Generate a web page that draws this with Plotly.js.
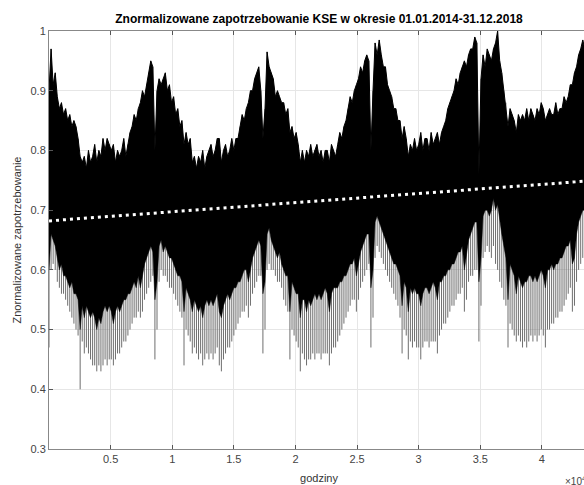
<!DOCTYPE html>
<html><head><meta charset="utf-8">
<script src="https://cdn.plot.ly/plotly-3.0.1.min.js"></script>
<style>html,body{margin:0;padding:0;overflow:hidden;background:#fff}#plot{width:590px;height:485px}</style>
</head><body><div id="plot"></div>
<script>
// Weekly peak (upper envelope) of normalized demand
const peak2014 = [0.90,0.97,0.91,0.93, 0.89,0.87,0.88,0.86,0.87, 0.85,0.86,0.84,0.85, 0.84,0.82,0.79,0.78,
  0.79,0.77,0.80,0.78,0.79, 0.81,0.78,0.80,0.79, 0.82,0.80,0.82,0.81, 0.80,0.81,0.78,0.80,0.79,
  0.80,0.82,0.79,0.81, 0.83,0.84,0.86,0.85,0.87, 0.88,0.90,0.89,0.91, 0.93,0.95,0.94,0.80];
const peak2015 = [0.90,0.92,0.91,0.92, 0.93,0.90,0.91,0.88,0.89, 0.86,0.87,0.84,0.85, 0.81,0.83,0.81,0.82,
  0.78,0.79,0.77,0.79,0.78, 0.80,0.77,0.79,0.80, 0.81,0.79,0.80,0.82, 0.82,0.78,0.80,0.81,0.79,
  0.80,0.82,0.80,0.82, 0.82,0.84,0.86,0.85,0.87, 0.88,0.90,0.90,0.92, 0.93,0.94,0.90,0.82];
const peak2016 = [0.87,0.965,0.94,0.93, 0.92,0.89,0.90,0.89,0.88, 0.88,0.86,0.87,0.83, 0.84,0.82,0.83,0.81,
  0.78,0.80,0.78,0.80,0.79, 0.81,0.79,0.80,0.81, 0.79,0.80,0.78,0.80, 0.80,0.78,0.81,0.80,0.79,
  0.81,0.83,0.82,0.84, 0.85,0.87,0.89,0.88,0.90, 0.91,0.92,0.94,0.93, 0.95,0.96,0.95,0.80];
const peak2017 = [0.90,0.98,0.96,0.985, 0.96,0.94,0.94,0.91,0.90, 0.89,0.87,0.87,0.85, 0.85,0.82,0.84,0.82,
  0.79,0.81,0.80,0.82,0.80, 0.81,0.83,0.80,0.82, 0.82,0.80,0.83,0.81, 0.82,0.83,0.81,0.83,0.84,
  0.85,0.87,0.88,0.89, 0.90,0.92,0.91,0.93,0.94, 0.95,0.94,0.96,0.97, 0.97,0.99,0.98,0.76];
const peak2018 = [0.92,0.96,0.94,0.97, 0.96,0.95,0.97,0.98,1.00, 0.95,0.93,0.90,0.88, 0.84,0.87,0.86,0.85,
  0.83,0.86,0.85,0.86,0.85, 0.87,0.85,0.87,0.86, 0.85,0.87,0.86,0.88, 0.87,0.85,0.86,0.87,0.86,
  0.86,0.88,0.86,0.87, 0.87,0.89,0.88,0.89,0.91, 0.91,0.93,0.94,0.96, 0.97,0.985,0.97,0.95, 0.90];

// Weekly lower edge of the solid black band (weekday night minimum)
const low2014 = [0.60,0.66,0.65,0.64, 0.62,0.60,0.61,0.59,0.59, 0.58,0.57,0.58,0.56, 0.56,0.55,0.50,0.54,
  0.52,0.54,0.53,0.52,0.53, 0.52,0.50,0.52,0.51, 0.53,0.54,0.53,0.54, 0.53,0.51,0.53,0.54,0.53,
  0.54,0.55,0.55,0.56, 0.56,0.57,0.58,0.57,0.59, 0.57,0.59,0.61,0.62, 0.63,0.64,0.63,0.55];
const low2015 = [0.58,0.64,0.65,0.63, 0.64,0.63,0.62,0.62,0.61, 0.60,0.59,0.59,0.58, 0.53,0.57,0.56,0.55,
  0.53,0.55,0.54,0.53,0.54, 0.52,0.54,0.55,0.54, 0.55,0.54,0.55,0.56, 0.53,0.52,0.54,0.55,0.56,
  0.55,0.56,0.57,0.57, 0.58,0.58,0.59,0.60,0.60, 0.58,0.60,0.62,0.63, 0.64,0.65,0.64,0.56];
const low2016 = [0.58,0.66,0.67,0.65, 0.64,0.63,0.62,0.63,0.61, 0.60,0.59,0.59,0.53, 0.58,0.57,0.56,0.56,
  0.52,0.55,0.55,0.53,0.55, 0.54,0.55,0.56,0.55, 0.56,0.55,0.56,0.57, 0.56,0.53,0.56,0.57,0.57,
  0.57,0.58,0.58,0.59, 0.59,0.60,0.61,0.61,0.62, 0.59,0.61,0.63,0.64, 0.65,0.66,0.66,0.57];
const low2017 = [0.60,0.68,0.69,0.68, 0.67,0.66,0.65,0.64,0.63, 0.62,0.61,0.61,0.60, 0.59,0.54,0.58,0.57,
  0.53,0.57,0.56,0.57,0.56, 0.56,0.54,0.56,0.57, 0.57,0.56,0.57,0.58, 0.57,0.55,0.58,0.58,0.59,
  0.59,0.60,0.60,0.61, 0.61,0.62,0.63,0.63,0.64, 0.60,0.63,0.65,0.66, 0.67,0.68,0.68,0.58];
const low2018 = [0.62,0.69,0.70,0.70, 0.69,0.70,0.72,0.70,0.71, 0.68,0.66,0.64,0.62, 0.55,0.61,0.60,0.59,
  0.56,0.59,0.58,0.57,0.58, 0.58,0.59,0.59,0.58, 0.59,0.58,0.59,0.60, 0.59,0.57,0.60,0.60,0.61,
  0.60,0.61,0.61,0.62, 0.62,0.63,0.64,0.64,0.65, 0.61,0.62,0.66,0.68, 0.69,0.70,0.70,0.60, 0.64];

// Weekly minimum (lower envelope, weekends and holidays)
const min2014 = [0.47,0.60,0.61,0.60, 0.58,0.57,0.56,0.56,0.55, 0.54,0.53,0.52,0.51, 0.50,0.49,0.40,0.48,
  0.46,0.47,0.46,0.45,0.44, 0.44,0.43,0.44,0.43, 0.44,0.45,0.44,0.45, 0.45,0.44,0.45,0.46,0.46,
  0.47,0.48,0.48,0.49, 0.50,0.51,0.52,0.52,0.53, 0.52,0.53,0.55,0.56, 0.57,0.58,0.59,0.45];
const min2015 = [0.50,0.58,0.60,0.59, 0.59,0.58,0.57,0.57,0.56, 0.55,0.54,0.53,0.52, 0.44,0.50,0.49,0.48,
  0.46,0.47,0.46,0.45,0.46, 0.44,0.45,0.46,0.45, 0.46,0.45,0.46,0.47, 0.44,0.43,0.45,0.46,0.47,
  0.47,0.48,0.49,0.50, 0.51,0.52,0.53,0.53,0.54, 0.52,0.54,0.56,0.57, 0.58,0.59,0.59,0.46];
const min2016 = [0.50,0.60,0.61,0.60, 0.60,0.59,0.58,0.58,0.57, 0.55,0.54,0.53,0.45, 0.50,0.49,0.48,0.47,
  0.43,0.46,0.45,0.44,0.45, 0.45,0.46,0.45,0.46, 0.46,0.45,0.46,0.46, 0.46,0.44,0.46,0.47,0.47,
  0.48,0.49,0.50,0.51, 0.52,0.53,0.54,0.55,0.55, 0.53,0.55,0.57,0.58, 0.59,0.60,0.61,0.47];
const min2017 = [0.52,0.62,0.64,0.63, 0.62,0.61,0.60,0.59,0.58, 0.57,0.56,0.55,0.54, 0.52,0.46,0.50,0.49,
  0.45,0.48,0.47,0.48,0.47, 0.47,0.45,0.47,0.48, 0.48,0.47,0.48,0.48, 0.48,0.46,0.49,0.50,0.51,
  0.51,0.52,0.53,0.54, 0.54,0.55,0.56,0.56,0.57, 0.53,0.55,0.58,0.59, 0.59,0.60,0.60,0.48];
const min2018 = [0.54,0.62,0.63,0.64, 0.63,0.62,0.64,0.61,0.60, 0.58,0.57,0.55,0.54, 0.47,0.51,0.50,0.49,
  0.48,0.49,0.48,0.47,0.48, 0.47,0.48,0.49,0.48, 0.49,0.48,0.49,0.50, 0.49,0.47,0.50,0.50,0.51,
  0.51,0.52,0.52,0.53, 0.53,0.54,0.55,0.56,0.57, 0.53,0.54,0.58,0.60, 0.61,0.62,0.62,0.50, 0.52];

// Linear trend line (start / end)
const trendX = [1, 43824];
const trendY = [0.682, 0.749];

const hoursTotal = 43824;
const xTickVals = [5000,10000,15000,20000,25000,30000,35000,40000];
const xTickText = ['0.5','1','1.5','2','2.5','3','3.5','4'];
const yTickVals = [0.3,0.4,0.5,0.6,0.7,0.8,0.9,1];
const yTickText = ['0.3','0.4','0.5','0.6','0.7','0.8','0.9','1'];

const weekPeak = [].concat(peak2014, peak2015, peak2016, peak2017, peak2018);
const weekLow = [].concat(low2014, low2015, low2016, low2017, low2018);
const weekMin = [].concat(min2014, min2015, min2016, min2017, min2018);
const weekX = weekPeak.map((_, i) => i * hoursTotal / (weekPeak.length - 1));

const combX = [], combY = [];
weekMin.forEach((v, i) => { combX.push(weekX[i], weekX[i], null); combY.push(v, weekPeak[i], null); });

const FONT = 'Liberation Sans, Arial, Helvetica, sans-serif';

const traces = [
  {x: combX, y: combY, type: 'scatter', mode: 'lines', line: {color: '#6e6e6e', width: 1}, connectgaps: false, hoverinfo: 'skip'},
  {x: weekX, y: weekLow, type: 'scatter', mode: 'lines', line: {color: '#000', width: 0.5}, hoverinfo: 'skip'},
  {x: weekX, y: weekPeak, type: 'scatter', mode: 'lines', fill: 'tonexty', fillcolor: '#000', line: {color: '#000', width: 1}, hoverinfo: 'skip'},
  {x: trendX, y: trendY, type: 'scatter', mode: 'lines', line: {color: '#fff', width: 3, dash: '3px,4px'}, hoverinfo: 'skip'}
];

const layout = {
  width: 590, height: 485,
  margin: {l: 49, r: 1, t: 31, b: 36},
  paper_bgcolor: '#fff', plot_bgcolor: '#fff',
  showlegend: false,
  font: {family: FONT, size: 11, color: '#444'},
  title: {text: '<b>Znormalizowane zapotrzebowanie KSE w okresie 01.01.2014-31.12.2018</b>',
    font: {family: FONT, size: 12, color: '#000'}, x: 0.5, xref: 'paper', xanchor: 'center',
    y: 1 - 19 / 485, yref: 'container', yanchor: 'middle'},
  xaxis: {range: [0, hoursTotal], tickvals: xTickVals, ticktext: xTickText,
    ticks: 'inside', ticklen: 4, tickcolor: '#555', tickwidth: 1,
    showline: true, linecolor: '#888', linewidth: 1, mirror: 'ticks',
    showgrid: true, gridcolor: '#e6e6e6', gridwidth: 1, zeroline: false,
    tickfont: {family: FONT, size: 11, color: '#444'},
    title: {text: 'godziny', font: {family: FONT, size: 11, color: '#333'}, standoff: 10}},
  yaxis: {range: [0.3, 1], tickvals: yTickVals, ticktext: yTickText,
    ticks: 'inside', ticklen: 4, tickcolor: '#555', tickwidth: 1,
    showline: true, linecolor: '#888', linewidth: 1, mirror: 'ticks',
    showgrid: true, gridcolor: '#e6e6e6', gridwidth: 1, zeroline: false,
    tickfont: {family: FONT, size: 11, color: '#444'},
    title: {text: 'Znormalizowane zapotrzebowanie', font: {family: FONT, size: 11, color: '#333'}, standoff: 6}},
  annotations: [{xref: 'paper', yref: 'paper', x: (563 - 49) / 540, y: (449 - 481) / 418,
    xanchor: 'left', yanchor: 'middle', showarrow: false,
    text: '×10<sup>4</sup>', font: {family: FONT, size: 10, color: '#444'}}]
};

Plotly.newPlot('plot', traces, layout, {displayModeBar: false, staticPlot: true});
</script></body></html>
